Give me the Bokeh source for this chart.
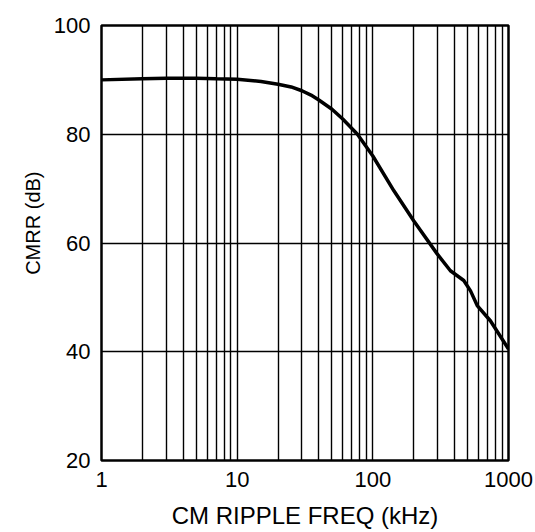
from bokeh.plotting import figure
from bokeh.models import FixedTicker, Range1d, Title
from bokeh.embed import file_html
from bokeh.resources import INLINE

# Data
freq_khz = [1, 2, 3, 5, 7, 10, 15, 20, 25, 30, 35, 40, 50, 60, 77, 100, 143, 200, 298, 373, 468, 525, 588, 735, 1000]
cmrr_db = [90.0, 90.2, 90.3, 90.3, 90.2, 90.1, 89.7, 89.2, 88.7, 88.0, 87.2, 86.3, 84.6, 82.8, 80.0, 76.0, 69.6, 64.1, 58.0, 54.9, 53.1, 51.2, 48.5, 45.7, 40.5]

x_major = [1, 10, 100, 1000]
x_minor = [m * d for d in (1, 10, 100) for m in range(2, 10)]
x_labels = {1: "1", 10: "10", 100: "100", 1000: "1000"}
y_ticks = [20, 40, 60, 80, 100]

FONT = "Liberation Sans"

p = figure(width=535, height=532, x_axis_type="log",
           x_range=Range1d(1, 1000), y_range=Range1d(20, 100),
           output_backend="svg", toolbar_location=None,
           min_border_left=101, min_border_right=27, min_border_top=25, min_border_bottom=72)

p.line(freq_khz, cmrr_db, line_color="black", line_width=3.5)

p.xaxis.ticker = FixedTicker(ticks=x_major, minor_ticks=x_minor)
p.xaxis.major_label_overrides = x_labels
p.yaxis.ticker = FixedTicker(ticks=y_ticks)

for ax in (p.xaxis[0], p.yaxis[0]):
    ax.axis_line_color = None
    ax.major_tick_line_color = None
    ax.minor_tick_line_color = None
    ax.major_tick_out = 0
    ax.major_tick_in = 0
    ax.minor_tick_out = 0
    ax.minor_tick_in = 0
    ax.major_label_text_font = FONT
    ax.major_label_text_font_size = "22px"
    ax.major_label_text_color = "black"
    ax.axis_label_text_font = FONT
    ax.axis_label_text_font_style = "normal"
    ax.axis_label_text_color = "black"

p.xaxis.axis_label = "CM RIPPLE FREQ (kHz)"
p.xaxis.axis_label_text_font_size = "24px"
p.xaxis.major_label_standoff = 11
p.yaxis.major_label_standoff = 11
p.xaxis.axis_label_standoff = 12

ytitle = Title(text="CMRR (dB)", align="right", offset=146, vertical_align="top",
               text_font=FONT, text_font_size="20px", text_font_style="normal",
               text_color="black", standoff=10)
p.add_layout(ytitle, "left")

p.xgrid.grid_line_color = "black"
p.xgrid.grid_line_width = 1.4
p.xgrid.minor_grid_line_color = "black"
p.xgrid.minor_grid_line_width = 1.4
p.ygrid.grid_line_color = "black"
p.ygrid.grid_line_width = 1.5

p.outline_line_color = "black"
p.outline_line_width = 2.5
p.outline_line_alpha = 1.0

open("out.html", "w").write(file_html(p, INLINE))
